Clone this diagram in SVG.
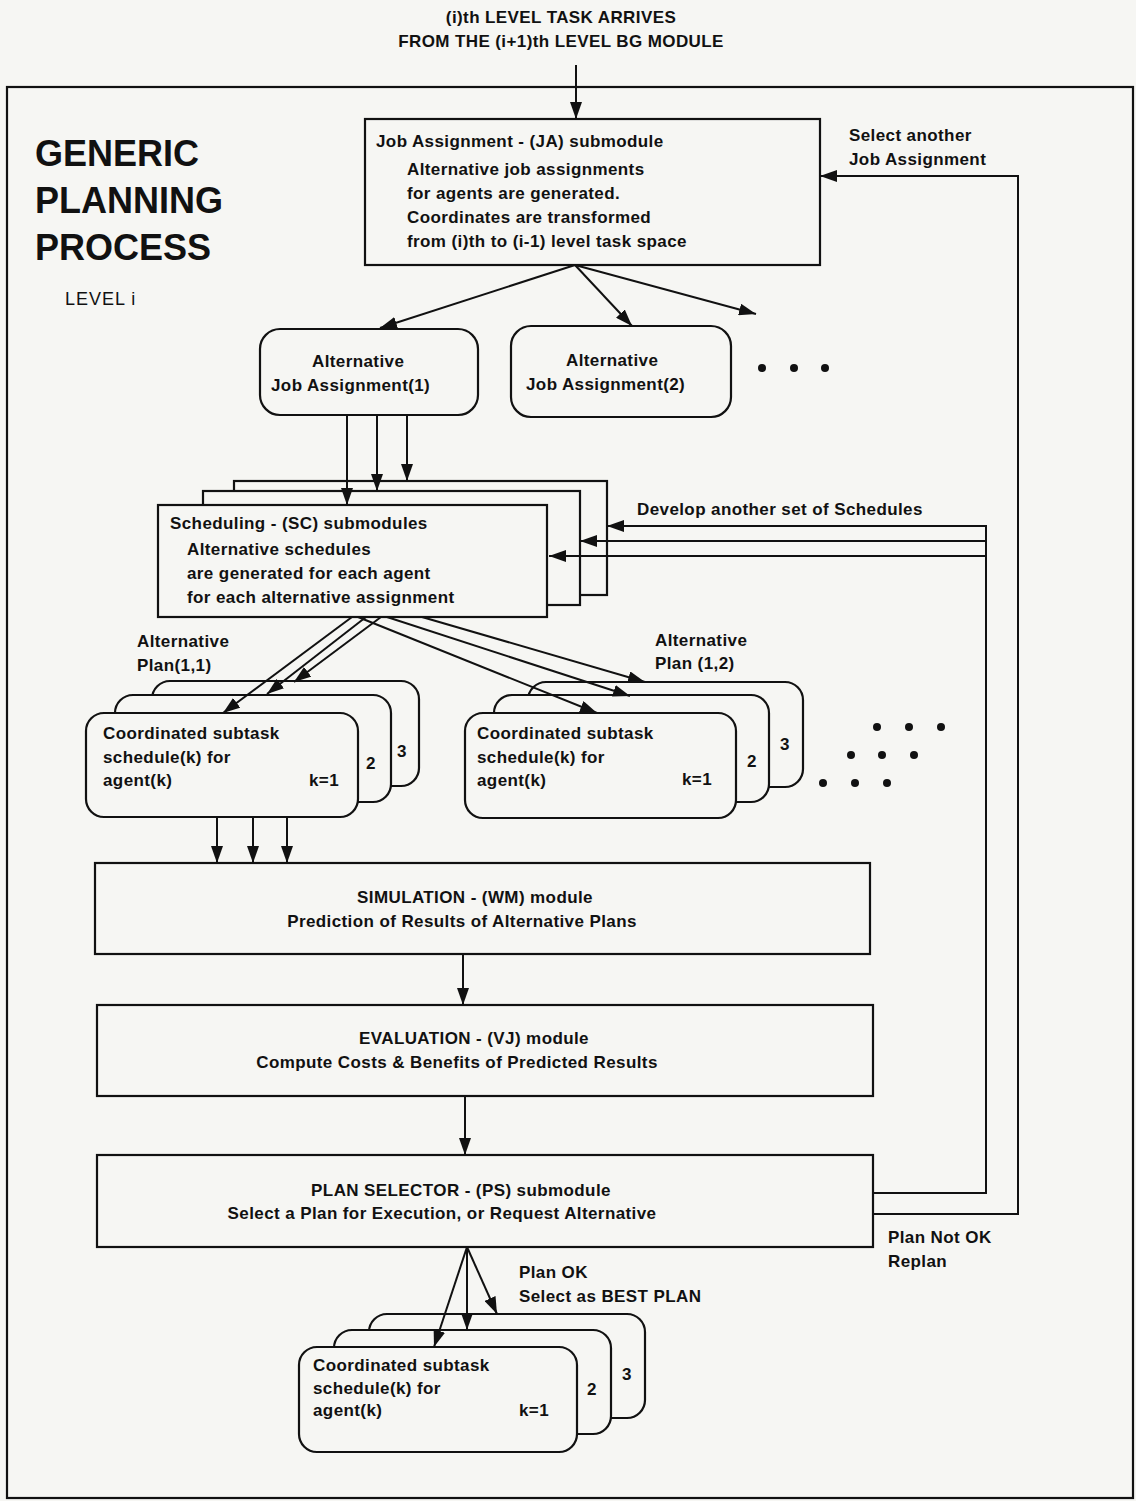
<svg xmlns="http://www.w3.org/2000/svg" width="1136" height="1501" viewBox="0 0 1136 1501">
<defs>
<style>
text{font-family:"Liberation Sans",Arial,sans-serif;font-weight:bold;font-size:17px;letter-spacing:0.4px;fill:#111}
.big{font-size:36px;letter-spacing:0}
.lvl{font-weight:normal;font-size:18px;letter-spacing:1px}
.mid{text-anchor:middle}
.box{fill:#f6f6f3;stroke:#111;stroke-width:2.2}
.ln{fill:none;stroke:#111;stroke-width:2}
.dot{fill:#111}
</style>
<marker id="ah" markerUnits="userSpaceOnUse" markerWidth="18" markerHeight="12" refX="17" refY="6" orient="auto">
<path d="M0,0 L17,6 L0,12 z" fill="#111"/>
</marker>
</defs>
<rect x="0" y="0" width="1136" height="1501" fill="#f6f6f3"/>
<rect x="7" y="87" width="1126" height="1411" fill="none" stroke="#111" stroke-width="2.2"/>

<g id="title">
<text class="mid" x="561" y="23">(i)th LEVEL TASK ARRIVES</text>
<text class="mid" x="561" y="47">FROM THE (i+1)th LEVEL BG MODULE</text>
<text class="big" x="35" y="166">GENERIC</text>
<text class="big" x="35" y="213">PLANNING</text>
<text class="big" x="35" y="260">PROCESS</text>
<text class="lvl" x="65" y="305">LEVEL i</text>
</g>

<g id="ja">
<rect class="box" x="365" y="119" width="455" height="146"/>
<text x="376" y="147">Job Assignment - (JA) submodule</text>
<text x="407" y="175">Alternative job assignments</text>
<text x="407" y="199">for agents are generated.</text>
<text x="407" y="223">Coordinates are transformed</text>
<text x="407" y="247">from (i)th to (i-1) level task space</text>
</g>

<g id="alt1">
<rect class="box" x="260" y="329" width="218" height="86" rx="20"/>
<text x="312" y="367">Alternative</text>
<text x="271" y="391">Job Assignment(1)</text>
</g>

<g id="alt2">
<rect class="box" x="511" y="326" width="220" height="91" rx="20"/>
<text x="566" y="366">Alternative</text>
<text x="526" y="390">Job Assignment(2)</text>
</g>

<g id="dots1">
<circle class="dot" cx="762" cy="368" r="4"/>
<circle class="dot" cx="794" cy="368" r="4"/>
<circle class="dot" cx="825" cy="368" r="4"/>
</g>

<g id="sc">
<rect class="box" x="234" y="481" width="373" height="114"/>
<rect class="box" x="203" y="491" width="377" height="114"/>
<rect class="box" x="158" y="505" width="389" height="112"/>
<text x="170" y="529">Scheduling - (SC) submodules</text>
<text x="187" y="555">Alternative schedules</text>
<text x="187" y="579">are generated for each agent</text>
<text x="187" y="603">for each alternative assignment</text>
</g>

<g id="plan11">
<text x="137" y="647">Alternative</text>
<text x="137" y="671">Plan(1,1)</text>
<rect class="box" x="152" y="681" width="267" height="105" rx="18"/>
<rect class="box" x="115" y="695" width="276" height="107" rx="18"/>
<rect class="box" x="86" y="713" width="272" height="104" rx="18"/>
<text x="103" y="739">Coordinated subtask</text>
<text x="103" y="763">schedule(k) for</text>
<text x="103" y="786">agent(k)</text>
<text x="309" y="786">k=1</text>
<text x="366" y="769">2</text>
<text x="397" y="757">3</text>
</g>

<g id="plan12">
<text x="655" y="646">Alternative</text>
<text x="655" y="669">Plan (1,2)</text>
<rect class="box" x="528" y="682" width="275" height="105" rx="18"/>
<rect class="box" x="494" y="695" width="275" height="107" rx="18"/>
<rect class="box" x="465" y="713" width="271" height="105" rx="18"/>
<text x="477" y="739">Coordinated subtask</text>
<text x="477" y="763">schedule(k) for</text>
<text x="477" y="786">agent(k)</text>
<text x="682" y="785">k=1</text>
<text x="747" y="767">2</text>
<text x="780" y="750">3</text>
</g>

<g id="dots2">
<circle class="dot" cx="877" cy="727" r="4"/>
<circle class="dot" cx="909" cy="727" r="4"/>
<circle class="dot" cx="941" cy="727" r="4"/>
<circle class="dot" cx="851" cy="755" r="4"/>
<circle class="dot" cx="882" cy="755" r="4"/>
<circle class="dot" cx="914" cy="755" r="4"/>
<circle class="dot" cx="823" cy="783" r="4"/>
<circle class="dot" cx="855" cy="783" r="4"/>
<circle class="dot" cx="887" cy="783" r="4"/>
</g>

<g id="sim">
<rect class="box" x="95" y="863" width="775" height="91"/>
<text class="mid" x="475" y="903">SIMULATION - (WM) module</text>
<text class="mid" x="462" y="927">Prediction of Results of Alternative Plans</text>
</g>

<g id="eval">
<rect class="box" x="97" y="1005" width="776" height="91"/>
<text class="mid" x="474" y="1044">EVALUATION - (VJ) module</text>
<text class="mid" x="457" y="1068">Compute Costs &amp; Benefits of Predicted Results</text>
</g>

<g id="ps">
<rect class="box" x="97" y="1155" width="776" height="92"/>
<text class="mid" x="461" y="1196">PLAN SELECTOR - (PS) submodule</text>
<text class="mid" x="442" y="1219">Select a Plan for Execution, or Request Alternative</text>
</g>

<g id="best">
<rect class="box" x="369" y="1314" width="276" height="104" rx="18"/>
<rect class="box" x="334" y="1330" width="277" height="104" rx="18"/>
<rect class="box" x="299" y="1347" width="278" height="105" rx="18"/>
<text x="313" y="1371">Coordinated subtask</text>
<text x="313" y="1394">schedule(k) for</text>
<text x="313" y="1416">agent(k)</text>
<text x="519" y="1416">k=1</text>
<text x="587" y="1395">2</text>
<text x="622" y="1380">3</text>
</g>

<g id="labels">
<text x="849" y="141">Select another</text>
<text x="849" y="165">Job Assignment</text>
<text x="637" y="515">Develop another set of Schedules</text>
<text x="888" y="1243">Plan Not OK</text>
<text x="888" y="1267">Replan</text>
<text x="519" y="1278">Plan OK</text>
<text x="519" y="1302">Select as BEST PLAN</text>
</g>

<g id="connectors">
<line class="ln" x1="576" y1="65" x2="576" y2="119" marker-end="url(#ah)"/>
<line class="ln" x1="575" y1="265" x2="380" y2="328" marker-end="url(#ah)"/>
<line class="ln" x1="575" y1="265" x2="632" y2="326" marker-end="url(#ah)"/>
<line class="ln" x1="575" y1="265" x2="756" y2="314" marker-end="url(#ah)"/>
<line class="ln" x1="347" y1="415" x2="347" y2="505" marker-end="url(#ah)"/>
<line class="ln" x1="377" y1="415" x2="377" y2="491" marker-end="url(#ah)"/>
<line class="ln" x1="407" y1="415" x2="407" y2="481" marker-end="url(#ah)"/>
<line class="ln" x1="352" y1="617" x2="223" y2="713" marker-end="url(#ah)"/>
<line class="ln" x1="366" y1="617" x2="267" y2="694" marker-end="url(#ah)"/>
<line class="ln" x1="381" y1="617" x2="294" y2="682" marker-end="url(#ah)"/>
<line class="ln" x1="358" y1="617" x2="597" y2="713" marker-end="url(#ah)"/>
<line class="ln" x1="387" y1="617" x2="630" y2="696" marker-end="url(#ah)"/>
<line class="ln" x1="422" y1="617" x2="645" y2="682" marker-end="url(#ah)"/>
<line class="ln" x1="217" y1="817" x2="217" y2="863" marker-end="url(#ah)"/>
<line class="ln" x1="253" y1="817" x2="253" y2="863" marker-end="url(#ah)"/>
<line class="ln" x1="287" y1="817" x2="287" y2="863" marker-end="url(#ah)"/>
<line class="ln" x1="463" y1="954" x2="463" y2="1005" marker-end="url(#ah)"/>
<line class="ln" x1="465" y1="1096" x2="465" y2="1155" marker-end="url(#ah)"/>
<line class="ln" x1="467" y1="1247" x2="434" y2="1347" marker-end="url(#ah)"/>
<line class="ln" x1="467" y1="1247" x2="467" y2="1330" marker-end="url(#ah)"/>
<line class="ln" x1="467" y1="1247" x2="497" y2="1314" marker-end="url(#ah)"/>
<polyline class="ln" points="873,1193 986,1193 986,526 607,526" marker-end="url(#ah)"/>
<line class="ln" x1="986" y1="541" x2="580" y2="541" marker-end="url(#ah)"/>
<line class="ln" x1="986" y1="556" x2="549" y2="556" marker-end="url(#ah)"/>
<polyline class="ln" points="873,1214 1018,1214 1018,176 820,176" marker-end="url(#ah)"/>
</g>
</svg>
